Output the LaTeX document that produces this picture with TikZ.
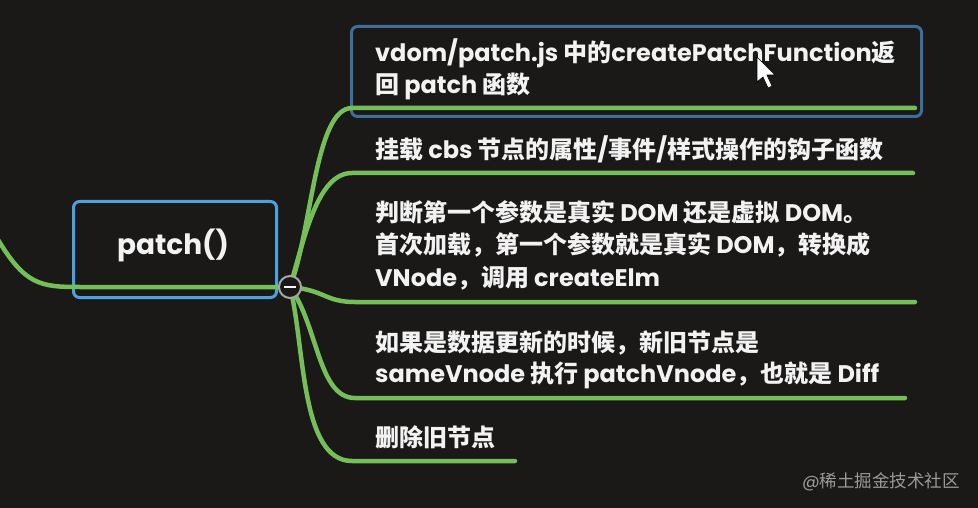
\documentclass[tikz,border=0pt]{standalone}
\usepackage{fontspec}
\setmainfont{Poppins}
\newfontfamily\cjk{Noto Sans CJK SC}
\newcommand\zh[1]{{\cjk #1}}
\definecolor{bg}{HTML}{1B1918}
\definecolor{grn}{HTML}{74BF58}
\definecolor{blueA}{HTML}{4BA3DE}
\definecolor{blueB}{HTML}{3E6F9A}
\definecolor{txt}{HTML}{F2F2F2}
\definecolor{wm}{HTML}{9A9A9A}
\tikzset{
  branch/.style={draw=grn, line width=4.5pt, line cap=round},
  itemtext/.style={anchor=base west, inner sep=0pt, text=txt, font=\fontsize{24}{32}\selectfont\bfseries},
}
\begin{document}
\begin{tikzpicture}[x=1pt,y=-1pt]
\useasboundingbox (0,0) rectangle (978,508);
\fill[bg] (0,0) rectangle (978,508);
% item 1 box
\node[draw=blueB, line width=3pt, rounded corners=6pt, minimum width=570pt, minimum height=90pt, anchor=north west] (box1) at (350,25) {};
% central box
\node[draw=blueA, line width=3pt, rounded corners=6pt, minimum width=203pt, minimum height=96pt, anchor=north west] (root) at (72,200) {};
\node[text=txt, font=\fontsize{28}{30}\selectfont\bfseries] (roottxt) at (173,245) {patch()};
% knot
\coordinate (hub) at (290,287);
\coordinate (in) at (-3,238);
% incoming line
\draw[branch] (in) .. controls (25,285) and (40,287) .. (80,287) -- (hub);
% branches
\coordinate (e1) at (915,108);
\coordinate (e2) at (913,173);
\coordinate (e3) at (915,302);
\coordinate (e4) at (905,398);
\coordinate (e5) at (515,461);
\draw[branch] (hub) .. controls (312,230) and (315,108) .. (352,108) -- (e1);
\draw[branch] (hub) .. controls (305,235) and (318,173) .. (352,173) -- (e2);
\draw[branch] (hub) .. controls (325,290) and (325,302) .. (355,302) -- (e3);
\draw[branch] (hub) .. controls (318,325) and (318,398) .. (355,398) -- (e4);
\draw[branch] (hub) .. controls (305,345) and (300,461) .. (352,461) -- (e5);
% hub circle
\node[circle, draw=gray!70, fill=bg, line width=2pt, minimum size=22pt, inner sep=0pt] (knot) at (hub) {};
\draw[txt!80, line width=2pt] ([xshift=-6pt]knot.center) -- ([xshift=6pt]knot.center);
% texts
\node[itemtext] (t1a) at (375,62) {vdom/patch.js \zh{中的}createPatchFunction\zh{返}};
\node[itemtext] (t1b) at (375,94) {\zh{回} patch \zh{函数}};
\node[itemtext] (t2) at (375,159) {\zh{挂载} cbs \zh{节点的属性}/\zh{事件}/\zh{样式操作的钩子函数}};
\node[itemtext] (t3a) at (375,222) {\zh{判断第一个参数是真实} DOM \zh{还是虚拟} DOM\zh{。}};
\node[itemtext] (t3b) at (375,254) {\zh{首次加载，第一个参数就是真实} DOM\zh{，转换成}};
\node[itemtext] (t3c) at (375,286) {VNode\zh{，调用} createElm};
\node[itemtext] (t4a) at (375,351) {\zh{如果是数据更新的时候，新旧节点是}};
\node[itemtext] (t4b) at (375,382) {sameVnode \zh{执行} patchVnode\zh{，也就是} Diff};
\node[itemtext] (t5) at (375,446) {\zh{删除旧节点}};
% watermark
\node[anchor=base east, inner sep=0pt, text=wm, font=\fontsize{17.5}{18}\selectfont] (wmk) at (960,487) {@\zh{稀土掘金技术社区}};
% cursor
\fill[white, draw=black, line width=0.6pt] (757,57) -- (757,82) -- (763,77) -- (768,88) -- (772,86) -- (767,75) -- (775,75) -- cycle;
\end{tikzpicture}
\end{document}
